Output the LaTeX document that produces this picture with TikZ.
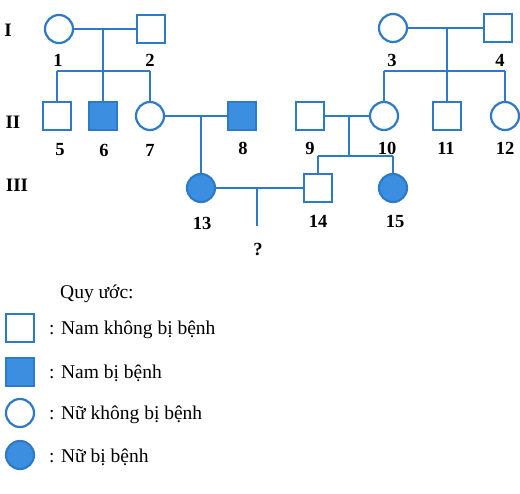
\documentclass[tikz,border=0pt]{standalone}
\usepackage{fontspec}
\setmainfont{Liberation Serif}
\definecolor{ln}{RGB}{45,122,200}
\definecolor{fl}{RGB}{60,142,224}
\begin{document}
\begin{tikzpicture}[x=1pt,y=-1pt,
  lk/.style={draw=ln,line width=2.2pt},
  male/.style={draw=ln,line width=2.2pt,fill=white,rectangle,minimum size=28pt,inner sep=0pt},
  amale/.style={male,fill=fl},
  female/.style={draw=ln,line width=2.2pt,fill=white,circle,minimum size=28pt,inner sep=0pt},
  afemale/.style={female,fill=fl},
  num/.style={font=\fontsize{18.5}{18.5}\selectfont\bfseries,inner sep=0pt},
  gen/.style={font=\fontsize{19}{19}\selectfont\bfseries,inner sep=0pt},
  leg/.style={font=\fontsize{19.5}{20}\selectfont,anchor=west,inner sep=0pt}]
\useasboundingbox (0,0) rectangle (520,494);
% generation labels
\node[gen] (g1) at (8,30) {I};
\node[gen] (g2) at (13,122) {II};
\node[gen] (g3) at (17,185) {III};
% generation I
\node[female] (p1) at (59,29) {};
\node[male] (p2) at (151,29) {};
\node[female] (p3) at (393,28) {};
\node[male] (p4) at (498,28) {};
% generation II
\node[male] (p5) at (57,116) {};
\node[amale] (p6) at (103,116) {};
\node[female] (p7) at (150,116) {};
\node[amale] (p8) at (242,116) {};
\node[male] (p9) at (310,116) {};
\node[female] (p10) at (384,116) {};
\node[male] (p11) at (447,116) {};
\node[female] (p12) at (505,116) {};
% generation III
\node[afemale] (p13) at (201,188) {};
\node[male] (p14) at (318,188) {};
\node[afemale] (p15) at (393,188) {};
% numbers
\node[num] (n1) at (58,60) {1};
\node[num] (n2) at (150,60) {2};
\node[num] (n3) at (392,60) {3};
\node[num] (n4) at (500,60) {4};
\node[num] (n5) at (60,150) {5};
\node[num] (n6) at (104,150) {6};
\node[num] (n7) at (150,150) {7};
\node[num] (n8) at (243,148) {8};
\node[num] (n9) at (310,148) {9};
\node[num] (n10) at (387,148) {10};
\node[num] (n11) at (446,148) {11};
\node[num] (n12) at (505,148) {12};
\node[num] (n13) at (202,223) {13};
\node[num] (n14) at (318,221) {14};
\node[num] (n15) at (395,221) {15};
\node[num] (q) at (258,250) {?};
% family 1-2
\coordinate (m12) at (103,29);
\coordinate (s12) at (103,71);
\coordinate (s12l) at (57,71);
\coordinate (s12r) at (150,71);
\draw[lk] (p1) -- (p2);
\draw[lk] (m12) -- (s12);
\draw[lk] (s12l) -- (s12r);
\draw[lk] (s12l) -- (p5.north);
\draw[lk] (s12) -- (p6.north);
\draw[lk] (s12r) -- (p7.north);
% family 3-4
\coordinate (m34) at (447,28);
\coordinate (s34) at (447,71);
\coordinate (s34l) at (384,71);
\coordinate (s34r) at (505,71);
\draw[lk] (p3) -- (p4);
\draw[lk] (m34) -- (s34);
\draw[lk] (s34l) -- (s34r);
\draw[lk] (s34l) -- (p10.north);
\draw[lk] (s34) -- (p11.north);
\draw[lk] (s34r) -- (p12.north);
% family 7-8
\coordinate (m78) at (201,116);
\draw[lk] (p7) -- (p8);
\draw[lk] (m78) -- (p13.north);
% family 9-10
\coordinate (m910) at (349,116);
\coordinate (s910) at (349,156);
\coordinate (s910l) at (318,156);
\coordinate (s910r) at (393,156);
\draw[lk] (p9) -- (p10);
\draw[lk] (m910) -- (s910);
\draw[lk] (s910l) -- (s910r);
\draw[lk] (s910l) -- (p14.north);
\draw[lk] (s910r) -- (p15.north);
% family 13-14
\coordinate (m1314) at (257,188);
\coordinate (e1314) at (257,226);
\draw[lk] (p13) -- (p14);
\draw[lk] (m1314) -- (e1314);
% legend
\node[leg] (qu) at (60,294) {Quy ước:};
\node[male] (l1) at (20,328) {};
\node[amale] (l2) at (20,372) {};
\node[female] (l3) at (20,413) {};
\node[afemale] (l4) at (20,455) {};
\node[leg] (t1) at (49,330) {: Nam không bị bệnh};
\node[leg] (t2) at (49,373) {: Nam bị bệnh};
\node[leg] (t3) at (49,415) {: Nữ không bị bệnh};
\node[leg] (t4) at (49,457) {: Nữ bị bệnh};
\end{tikzpicture}
\end{document}
